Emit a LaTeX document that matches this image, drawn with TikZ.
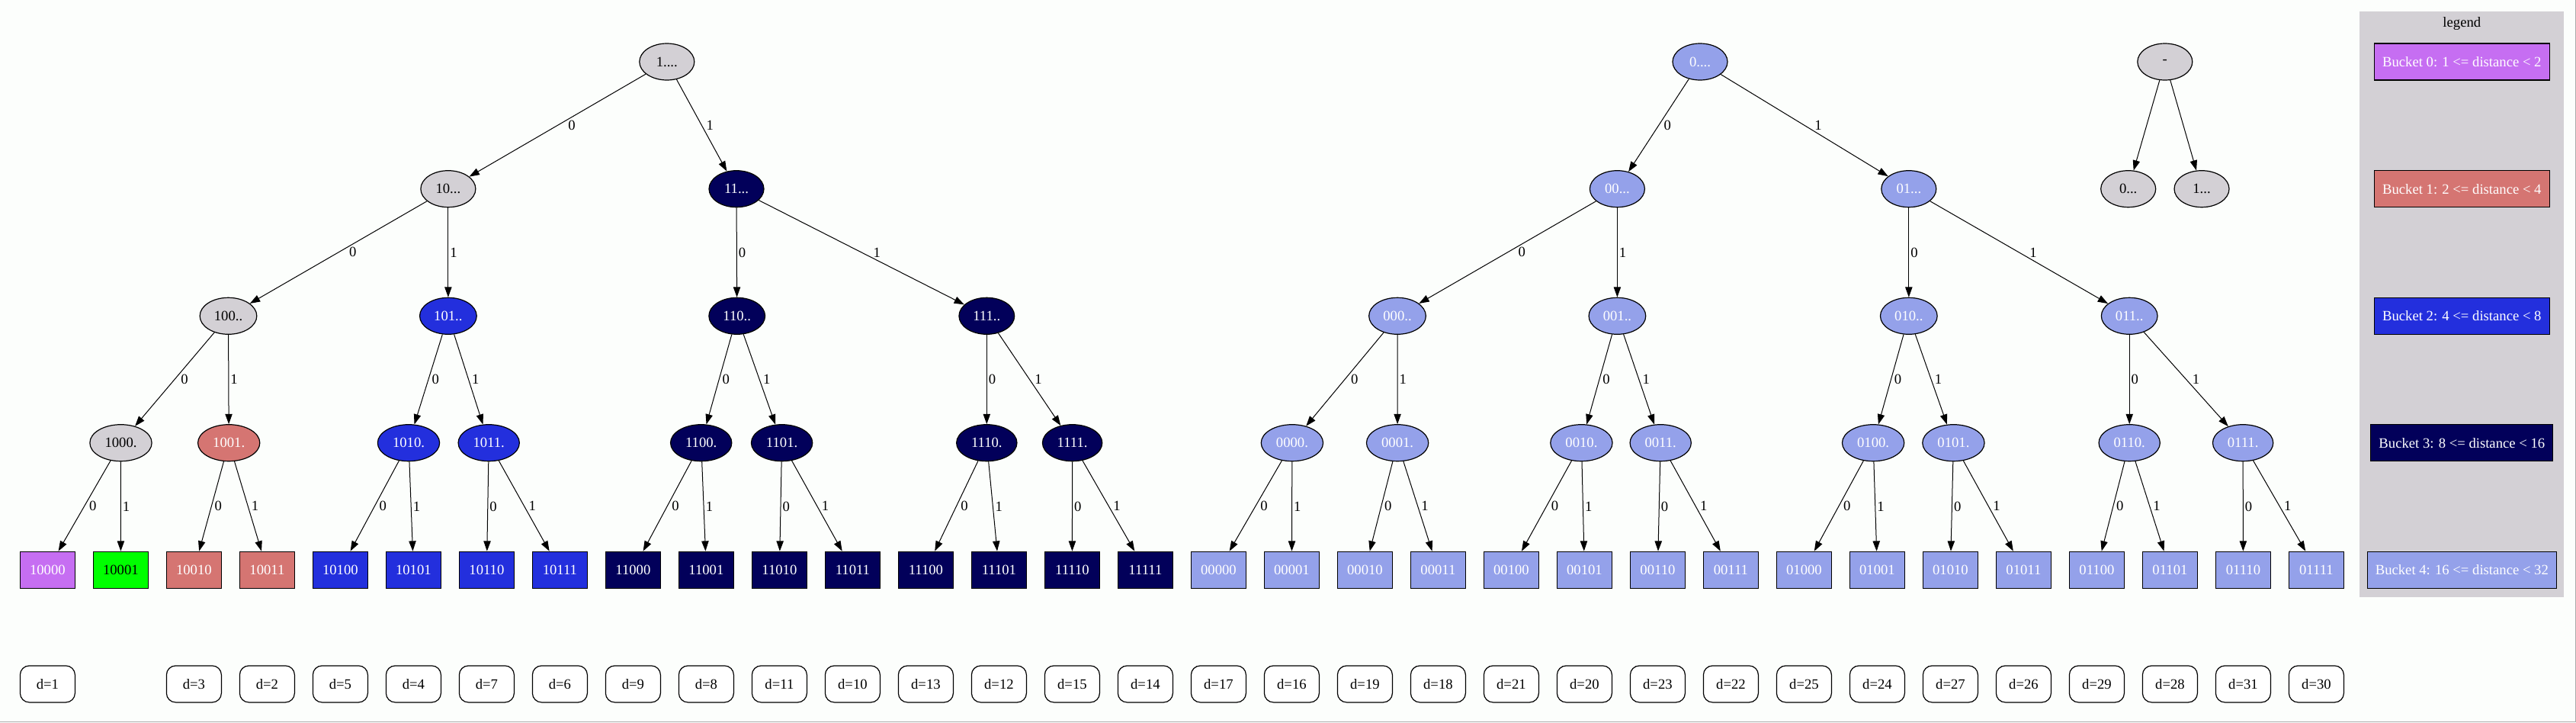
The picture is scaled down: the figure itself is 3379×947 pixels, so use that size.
\documentclass[tikz,border=0pt]{standalone}
\usepackage{fontspec}
\setmainfont{Liberation Serif}
\usetikzlibrary{positioning, shapes.geometric, arrows.meta, calc}
\definecolor{pageWhite}{RGB}{252,254,252}
\definecolor{nodeGray}{RGB}{211,208,213}
\definecolor{bucketZero}{RGB}{198,110,242}
\definecolor{bucketOne}{RGB}{213,117,114}
\definecolor{bucketTwo}{RGB}{35,47,221}
\definecolor{bucketThree}{RGB}{2,0,90}
\definecolor{bucketFour}{RGB}{148,161,234}
\definecolor{targetGreen}{RGB}{0,255,0}
\definecolor{frameGray}{RGB}{170,170,170}
\tikzstyle{graphPx} = [x = 0.75pt, y = -0.75pt]
\tikzstyle{dotFont} = [font=\fontsize{14}{16}\selectfont]
\tikzstyle{treeNode} = [ellipse, draw=black, line width=0.9pt, minimum width=54pt, minimum height=36pt, inner xsep=5.8pt, inner ysep=2pt, dotFont]
\tikzstyle{leafBox} = [rectangle, draw=black, line width=0.9pt, minimum width=54pt, minimum height=36pt, inner xsep=8pt, dotFont]
\tikzstyle{distBox} = [leafBox, fill=white, rounded corners=9pt]
\tikzstyle{legendBox} = [leafBox, text=white]
\tikzstyle{legendArea} = [fill=nodeGray]
\tikzstyle{frameLine} = [color=frameGray, line width=1.2pt]
\tikzstyle{treeEdge} = [line width=0.75pt, -{Triangle[length=10pt, width=7pt]}]
\tikzstyle{edgeLabel} = [midway, anchor=west, inner sep=1pt, dotFont]
\tikzstyle{grayVertex} = [fill=nodeGray, text=black]
\tikzstyle{salmonVertex} = [fill=bucketOne, text=white]
\tikzstyle{blueVertex} = [fill=bucketTwo, text=white]
\tikzstyle{navyVertex} = [fill=bucketThree, text=white]
\tikzstyle{paleVertex} = [fill=bucketFour, text=white]
\newcommand{\treeVertex}[5]{\node[treeNode, #2] (#1) at (#3, #4) {#5};}
\newcommand{\treeEdge}[3]{
  \draw[treeEdge] let \p1 = (#1.center), \p2 = (#2.center),
    \n1 = {5pt*abs(\x2-\x1)/abs(\y2-\y1) + 0.5pt} in
    (#1) -- (#2) node[edgeLabel, xshift=\n1] {#3};
}
\begin{document}
\begin{tikzpicture}[graphPx]
  \fill[pageWhite] (0,0) rectangle (3379,947);
  \useasboundingbox (0,0) rectangle (3379,947);
  \draw[frameLine] (0,946.3) -- (3378.3,946.3) -- (3378.3,0);

  \fill[legendArea] (3095.3,15.3) rectangle (3363,782.7);
  \node[dotFont] (legendTitle) at (3229.3,30.7) {legend};
  \foreach \legendName/\bucketColor/\yPos/\legendText in {
      legend0/bucketZero/81/{Bucket 0: 1 <= distance < 2},
      legend1/bucketOne/247.7/{Bucket 1: 2 <= distance < 4},
      legend2/bucketTwo/414.3/{Bucket 2: 4 <= distance < 8},
      legend3/bucketThree/580.7/{Bucket 3: 8 <= distance < 16},
      legend4/bucketFour/747.3/{Bucket 4: 16 <= distance < 32}}
    \node[legendBox, fill=\bucketColor] (\legendName) at (3229.3,\yPos) {\legendText};

  \treeVertex{n1}{grayVertex}{874.8}{81}{1....}
  \treeVertex{n0}{paleVertex}{2230}{81}{0....}
  \treeVertex{dash}{grayVertex}{2839.8}{81}{-}

  \treeVertex{n10}{grayVertex}{587.9}{247.7}{10...}
  \treeVertex{n11}{navyVertex}{966}{247.7}{11...}
  \treeVertex{n00}{paleVertex}{2121.4}{247.7}{00...}
  \treeVertex{n01}{paleVertex}{2503.8}{247.7}{01...}
  \treeVertex{dash0}{grayVertex}{2791.7}{247.7}{0...}
  \treeVertex{dash1}{grayVertex}{2888}{247.7}{1...}

  \treeVertex{n100}{grayVertex}{299.5}{414.3}{100..}
  \treeVertex{n101}{blueVertex}{587.9}{414.3}{101..}
  \treeVertex{n110}{navyVertex}{966.7}{414.3}{110..}
  \treeVertex{n111}{navyVertex}{1294.3}{414.3}{111..}
  \treeVertex{n000}{paleVertex}{1833}{414.3}{000..}
  \treeVertex{n001}{paleVertex}{2121.4}{414.3}{001..}
  \treeVertex{n010}{paleVertex}{2503.8}{414.3}{010..}
  \treeVertex{n011}{paleVertex}{2793.2}{414.3}{011..}

  \treeVertex{n1000}{grayVertex}{158.5}{580.7}{1000.}
  \treeVertex{n1001}{salmonVertex}{300.2}{580.7}{1001.}
  \treeVertex{n1010}{blueVertex}{536}{580.7}{1010.}
  \treeVertex{n1011}{blueVertex}{641.2}{580.7}{1011.}
  \treeVertex{n1100}{navyVertex}{919.7}{580.7}{1100.}
  \treeVertex{n1101}{navyVertex}{1025.6}{580.7}{1101.}
  \treeVertex{n1110}{navyVertex}{1294.3}{580.7}{1110.}
  \treeVertex{n1111}{navyVertex}{1406.6}{580.7}{1111.}
  \treeVertex{n0000}{paleVertex}{1694.9}{580.7}{0000.}
  \treeVertex{n0001}{paleVertex}{1833.1}{580.7}{0001.}
  \treeVertex{n0010}{paleVertex}{2074.4}{580.7}{0010.}
  \treeVertex{n0011}{paleVertex}{2178.2}{580.7}{0011.}
  \treeVertex{n0100}{paleVertex}{2457.1}{580.7}{0100.}
  \treeVertex{n0101}{paleVertex}{2562.4}{580.7}{0101.}
  \treeVertex{n0110}{paleVertex}{2793.2}{580.7}{0110.}
  \treeVertex{n0111}{paleVertex}{2942.1}{580.7}{0111.}

  \foreach \leafName/\leafColor/\leafText [count=\i from 0] in {
      10000/bucketZero/white, 10001/targetGreen/black, 10010/bucketOne/white, 10011/bucketOne/white,
      10100/bucketTwo/white, 10101/bucketTwo/white, 10110/bucketTwo/white, 10111/bucketTwo/white,
      11000/bucketThree/white, 11001/bucketThree/white, 11010/bucketThree/white, 11011/bucketThree/white,
      11100/bucketThree/white, 11101/bucketThree/white, 11110/bucketThree/white, 11111/bucketThree/white,
      00000/bucketFour/white, 00001/bucketFour/white, 00010/bucketFour/white, 00011/bucketFour/white,
      00100/bucketFour/white, 00101/bucketFour/white, 00110/bucketFour/white, 00111/bucketFour/white,
      01000/bucketFour/white, 01001/bucketFour/white, 01010/bucketFour/white, 01011/bucketFour/white,
      01100/bucketFour/white, 01101/bucketFour/white, 01110/bucketFour/white, 01111/bucketFour/white}
    \node[leafBox, fill=\leafColor, text=\leafText] (l\leafName) at ({62.4 + 96*\i}, 747.3) {\leafName};

  \foreach \leafName/\dist in {
      10000/1, 10010/3, 10011/2, 10100/5, 10101/4, 10110/7, 10111/6,
      11000/9, 11001/8, 11010/11, 11011/10, 11100/13, 11101/12, 11110/15, 11111/14,
      00000/17, 00001/16, 00010/19, 00011/18, 00100/21, 00101/20, 00110/23, 00111/22,
      01000/25, 01001/24, 01010/27, 01011/26, 01100/29, 01101/28, 01110/31, 01111/30}
    \node[distBox, below=75.3pt of l\leafName] (d\leafName) {d=\dist};

  \foreach \prefix in {1, 10, 11, 100, 101, 110, 111, 0, 00, 01, 000, 001, 010, 011} {
    \treeEdge{n\prefix}{n\prefix0}{0}
    \treeEdge{n\prefix}{n\prefix1}{1}
  }
  \foreach \prefix in {1000, 1001, 1010, 1011, 1100, 1101, 1110, 1111, 0000, 0001, 0010, 0011, 0100, 0101, 0110, 0111} {
    \treeEdge{n\prefix}{l\prefix0}{0}
    \treeEdge{n\prefix}{l\prefix1}{1}
  }
  \draw[treeEdge] (dash) -- (dash0);
  \draw[treeEdge] (dash) -- (dash1);
\end{tikzpicture}
\end{document}
